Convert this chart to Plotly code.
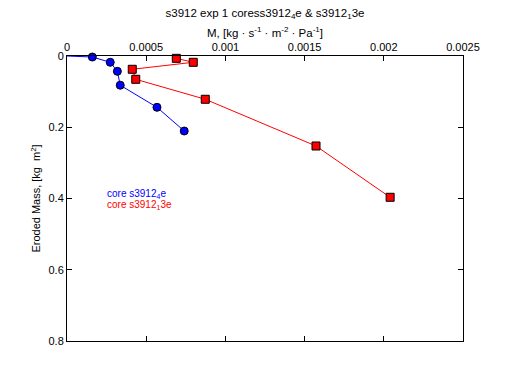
import plotly.graph_objects as go

blue_x = [0.0, 0.00016, 0.000273, 0.000318, 0.000336, 0.000568, 0.00074]
blue_y = [0.0, 0.0028, 0.0177, 0.043, 0.082, 0.144, 0.2105]
red_x = [0.00069, 0.000797, 0.000412, 0.000434, 0.000873, 0.001572, 0.00204]
red_y = [0.0065, 0.0177, 0.0373, 0.0654, 0.1215, 0.2526, 0.3966]

x_ticks = [0, 0.0005, 0.001, 0.0015, 0.002, 0.0025]
x_labels = ["0", "0.0005", "0.001", "0.0015", "0.002", "0.0025"]
y_ticks = [0, 0.2, 0.4, 0.6, 0.8]
y_labels = ["0", "0.2", "0.4", "0.6", "0.8"]

FONT = "Liberation Sans, Arial, sans-serif"

# page body has an 8px default margin; figure is sized to fill the rest
W, H = 504, 375

blue_sizes = [0] + [8] * (len(blue_x) - 1)

fig = go.Figure()
fig.add_trace(go.Scatter(
    x=blue_x, y=blue_y, mode="lines+markers",
    line=dict(color="blue", width=1),
    marker=dict(symbol="circle", size=blue_sizes, color="blue", opacity=1,
                line=dict(color="black", width=1)),
    cliponaxis=False, showlegend=False))
fig.add_trace(go.Scatter(
    x=red_x, y=red_y, mode="lines+markers",
    line=dict(color="red", width=1),
    marker=dict(symbol="square", size=8, color="red", opacity=1,
                line=dict(color="black", width=1)),
    cliponaxis=False, showlegend=False))

axis_common = dict(showline=True, linecolor="black", linewidth=1, mirror="ticks",
                   ticks="inside", ticklen=5, tickcolor="black", showgrid=False,
                   zeroline=False, automargin=False,
                   tickfont=dict(family=FONT, size=11, color="black"))

fig.update_layout(
    width=W, height=H,
    margin=dict(l=59, r=49, t=48, b=42),
    paper_bgcolor="white", plot_bgcolor="white",
    font=dict(family=FONT, size=11, color="black"),
    title=dict(text="s3912 exp 1 coress3912<sub>4</sub>e & s3912<sub>1</sub>3e",
               x=0.5, xref="paper", xanchor="center",
               y=1 - 5 / H, yref="container",
               yanchor="middle", automargin=False,
               font=dict(family=FONT, size=11.5, color="black")),
    xaxis=dict(side="top", range=[0, 0.0025], tickvals=x_ticks, ticktext=x_labels,
               title=dict(text="M, [kg · s<sup>-1</sup> · m<sup>-2</sup> · Pa<sup>-1</sup>]",
                          font=dict(family=FONT, size=11.5), standoff=0),
               **axis_common),
    yaxis=dict(range=[0.8, 0], tickvals=y_ticks, ticktext=y_labels,
               title=dict(text="Eroded Mass, [kg  m<sup>2</sup>]",
                          font=dict(family=FONT, size=11), standoff=5),
               **axis_common),
    annotations=[
        dict(text="core s3912<sub>4</sub>e", x=0.097, y=0.516, xref="paper", yref="paper",
             xanchor="left", yanchor="middle", showarrow=False,
             font=dict(family=FONT, size=10, color="blue")),
        dict(text="core s3912<sub>1</sub>3e", x=0.097, y=0.478, xref="paper", yref="paper",
             xanchor="left", yanchor="middle", showarrow=False,
             font=dict(family=FONT, size=10, color="red")),
    ],
)

fig.write_html("out.html")
